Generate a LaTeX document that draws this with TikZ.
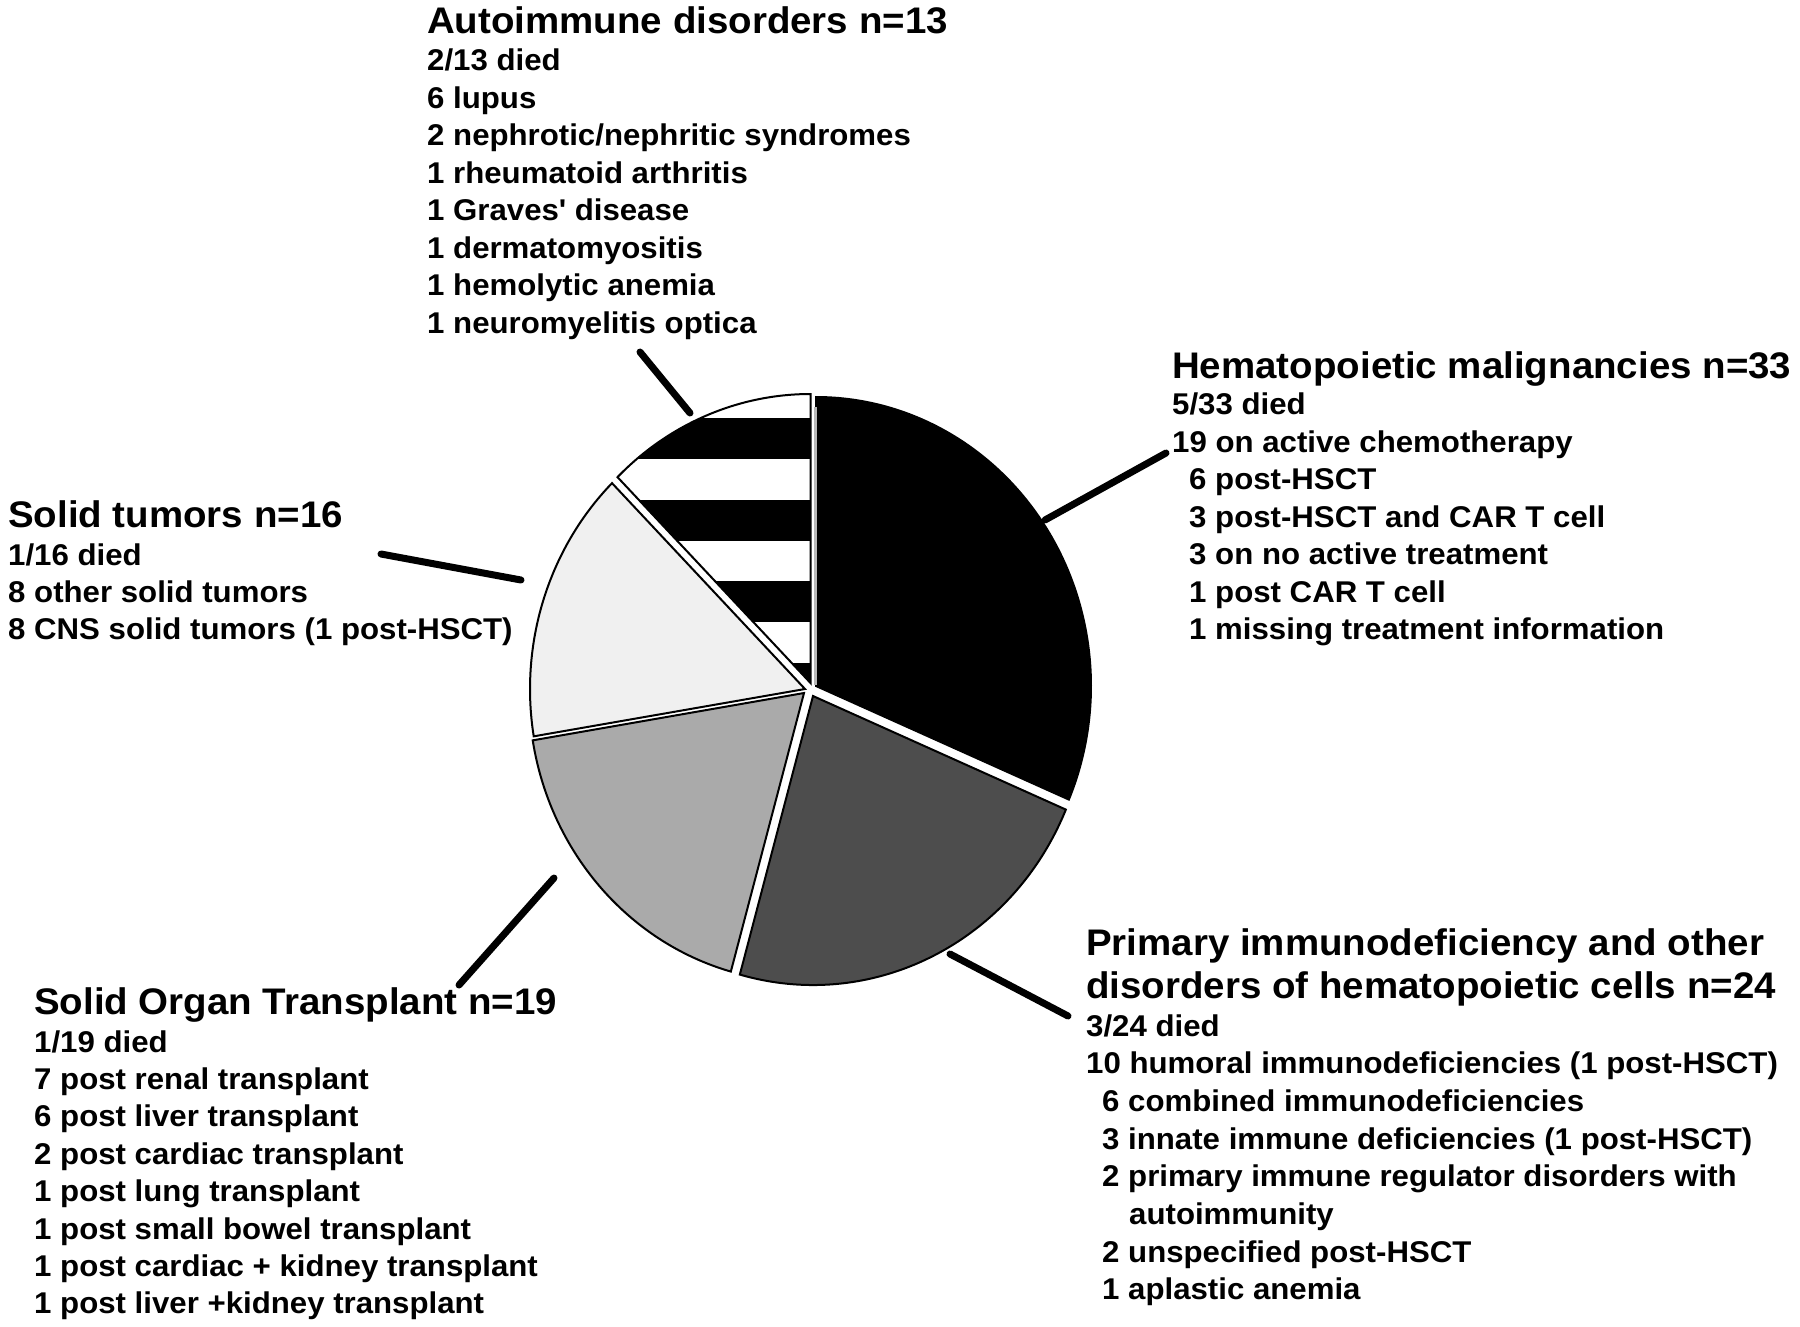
\documentclass[tikz,border=0pt]{standalone}
\usepackage{fontspec}
\setmainfont{Liberation Sans}[BoldFont={Liberation Sans Bold}, FakeStretch=1.04]
\definecolor{lightg}{HTML}{F0F0F0}
\definecolor{medg}{HTML}{AAAAAA}
\definecolor{darkg}{HTML}{4D4D4D}
\definecolor{seamg}{HTML}{B8B8B8}
\newcommand\bodyf{\fontsize{30}{36}\selectfont\bfseries}
\newcommand\headf{\fontsize{37}{44}\selectfont\bfseries}
\begin{document}
\begin{tikzpicture}[x=1pt,y=1pt,
  slice/.style={draw=black, line width=2pt, line join=miter},
  leader/.style={line width=7pt, line cap=round},
  body/.style={anchor=base west, inner sep=0pt, font=\bodyf},
  head/.style={anchor=base west, inner sep=0pt, font=\headf},
  ell/.style={x radius=275pt, y radius=289pt}]
\useasboundingbox[fill=white] (0,0) rectangle (1800,-1326);
% pie slices
\filldraw[slice, fill=black] (816,-686) -- ++(90:275pt and 289pt)
  arc[ell, start angle=90, end angle=-23.143] -- cycle;
\filldraw[slice, fill=darkg] (813,-696) -- ++(-23.143:275pt and 289pt)
  arc[ell, start angle=-23.143, end angle=-105.429] -- cycle;
\filldraw[slice, fill=medg] (804,-693) -- ++(-105.429:275pt and 289pt)
  arc[ell, start angle=-105.429, end angle=-170.571] -- cycle;
\filldraw[slice, fill=lightg] (805,-689) -- ++(-170.571:275pt and 289pt)
  arc[ell, start angle=-170.571, end angle=-225.429] -- cycle;
\begin{scope}
  \clip (810.5,-683) -- ++(134.571:275pt and 289pt)
    arc[ell, start angle=134.571, end angle=90] -- cycle;
  \fill[white] (500,-380) rectangle (830,-700);
  \foreach \yy in {418.3,499.8,581.3,662.8}
    \fill[black] (500,-\yy) rectangle (830,{-\yy-41});
\end{scope}
\draw[slice] (810.5,-683) -- ++(134.571:275pt and 289pt)
  arc[ell, start angle=134.571, end angle=90] -- cycle;
\draw[line width=3pt, seamg] (815.5,-407) -- (815.5,-685);

% leader lines
\coordinate (aiA) at (640,-352); \coordinate (aiB) at (690,-413);
\coordinate (hmA) at (1045,-520); \coordinate (hmB) at (1166,-453);
\coordinate (stA) at (381,-554); \coordinate (stB) at (521,-580);
\coordinate (soA) at (554,-878); \coordinate (soB) at (459,-985);
\coordinate (piA) at (950,-954); \coordinate (piB) at (1068,-1016);
\draw[leader] (aiA) -- (aiB);
\draw[leader] (hmA) -- (hmB);
\draw[leader] (stA) -- (stB);
\draw[leader] (soA) -- (soB);
\draw[leader] (piA) -- (piB);

% Autoimmune
\node[head] (aiH) at (427,-33.9) {Autoimmune disorders n=13};
\node[body] (ai1) at (427,-70.5) {2/13 died};
\node[body] (ai2) at (427,-108) {6 lupus};
\node[body] (ai3) at (427,-145.5) {2 nephrotic/nephritic syndromes};
\node[body] (ai4) at (427,-183) {1 rheumatoid arthritis};
\node[body] (ai5) at (427,-220.5) {1 Graves\textquotesingle{} disease};
\node[body] (ai6) at (427,-258) {1 dermatomyositis};
\node[body] (ai7) at (427,-295.5) {1 hemolytic anemia};
\node[body] (ai8) at (427,-333) {1 neuromyelitis optica};

% Hematopoietic
\node[head] (hmH) at (1172,-378.3) {Hematopoietic malignancies n=33};
\node[body] (hm1) at (1172,-414.8) {5/33 died};
\node[body] (hm2) at (1172,-452.3) {19 on active chemotherapy};
\node[body] (hm3) at (1189,-489.8) {6 post-HSCT};
\node[body] (hm4) at (1189,-527.3) {3 post-HSCT and CAR T cell};
\node[body] (hm5) at (1189,-564.8) {3 on no active treatment};
\node[body] (hm6) at (1189,-602.3) {1 post CAR T cell};
\node[body] (hm7) at (1189,-639.8) {1 missing treatment information};

% Solid tumors
\node[head] (stH) at (8,-527.5) {Solid tumors n=16};
\node[body] (st1) at (8,-565.2) {1/16 died};
\node[body] (st2) at (8,-602.5) {8 other solid tumors};
\node[body] (st3) at (8,-639.8) {8 CNS solid tumors (1 post-HSCT)};

% Solid organ transplant
\node[head] (soH) at (34,-1014.3) {Solid Organ Transplant n=19};
\node[body] (so1) at (34,-1052) {1/19 died};
\node[body] (so2) at (34,-1089.4) {7 post renal transplant};
\node[body] (so3) at (34,-1126.8) {6 post liver transplant};
\node[body] (so4) at (34,-1164.2) {2 post cardiac transplant};
\node[body] (so5) at (34,-1201.6) {1 post lung transplant};
\node[body] (so6) at (34,-1239) {1 post small bowel transplant};
\node[body] (so7) at (34,-1276.4) {1 post cardiac + kidney transplant};
\node[body] (so8) at (34,-1313.8) {1 post liver +kidney transplant};

% Primary immunodeficiency
\node[head] (piH1) at (1086,-955.7) {Primary immunodeficiency and other};
\node[head] (piH2) at (1086,-998.2) {disorders of hematopoietic cells n=24};
\node[body] (pi1) at (1086,-1036) {3/24 died};
\node[body] (pi2) at (1086,-1073.7) {10 humoral immunodeficiencies (1 post-HSCT)};
\node[body] (pi3) at (1102,-1111.4) {6 combined immunodeficiencies};
\node[body] (pi4) at (1102,-1149.1) {3 innate immune deficiencies (1 post-HSCT)};
\node[body] (pi5) at (1102,-1186.8) {2 primary immune regulator disorders with};
\node[body] (pi6) at (1129,-1224.5) {autoimmunity};
\node[body] (pi7) at (1102,-1262.2) {2 unspecified post-HSCT};
\node[body] (pi8) at (1102,-1299.9) {1 aplastic anemia};
\end{tikzpicture}
\end{document}
